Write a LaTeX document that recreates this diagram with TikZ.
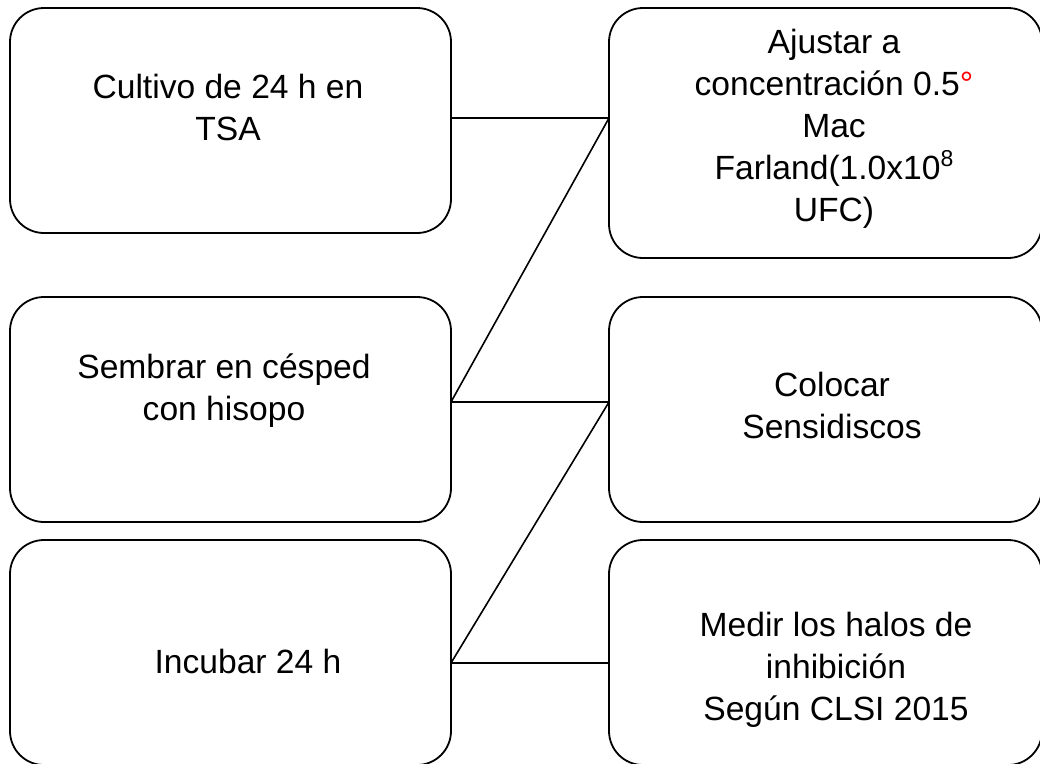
\documentclass[tikz,border=0pt]{standalone}
\usepackage{fontspec}
\setmainfont{Liberation Sans}
\newcommand{\supeight}{\raisebox{13pt}{\fontsize{23}{23}\selectfont 8}}
\begin{document}
\begin{tikzpicture}[x=1pt,y=-1pt,
  stepbox/.style={draw, line width=1.8pt, rounded corners=34pt, rectangle,
    inner sep=0pt, outer sep=0pt},
  label/.style={align=center, inner sep=0pt,
    font=\fontsize{33.6}{42}\selectfont},
  link/.style={line width=1.6pt}]
\useasboundingbox (0,0) rectangle (1040,763);
\clip (0,0) rectangle (1040,763);

% left column
\node[stepbox, minimum width=441pt, minimum height=225pt] (tl) at (230.5,120.5) {};
\node[stepbox, minimum width=441pt, minimum height=225pt] (ml) at (230.5,409.5) {};
\node[stepbox, minimum width=441pt, minimum height=225pt] (bl) at (230.5,652.5) {};

% right column
\node[stepbox, minimum width=433pt, minimum height=250pt] (tr) at (825.5,133) {};
\node[stepbox, minimum width=433pt, minimum height=225pt] (mr) at (825.5,409.5) {};
\node[stepbox, minimum width=433pt, minimum height=225pt] (br) at (825.5,652.5) {};

% texts
\node[label] (ttl) at (228,107) {Cultivo de 24 h en\\TSA};
\node[label] (ttr) at (834,129) {Ajustar a\\concentración 0.5\textcolor{red}{°}\\Mac\\Farland(1.0x10\supeight\\UFC)};
\node[label] (tml) at (224,391) {Sembrar en césped\\con hisopo};
\node[label] (tmr) at (832,405) {Colocar\\Sensidiscos};
\node[label] (tbl) at (248,661) {Incubar 24 h};
\node[label] (tbr) at (836,670) {Medir los halos de\\inhibición\\Según CLSI 2015};

% connectors
\coordinate (c1) at (tl.east |- 0,118);
\coordinate (c2) at (tr.west |- 0,118);
\coordinate (c3) at (ml.east |- 0,402);
\coordinate (c4) at (mr.west |- 0,402);
\coordinate (c5) at (bl.east |- 0,663);
\coordinate (c6) at (br.west |- 0,663);
\draw[link] (c1) -- (c2);
\draw[link] (c2) -- (c3);
\draw[link] (c3) -- (c4);
\draw[link] (c4) -- (c5);
\draw[link] (c5) -- (c6);
\end{tikzpicture}
\end{document}
